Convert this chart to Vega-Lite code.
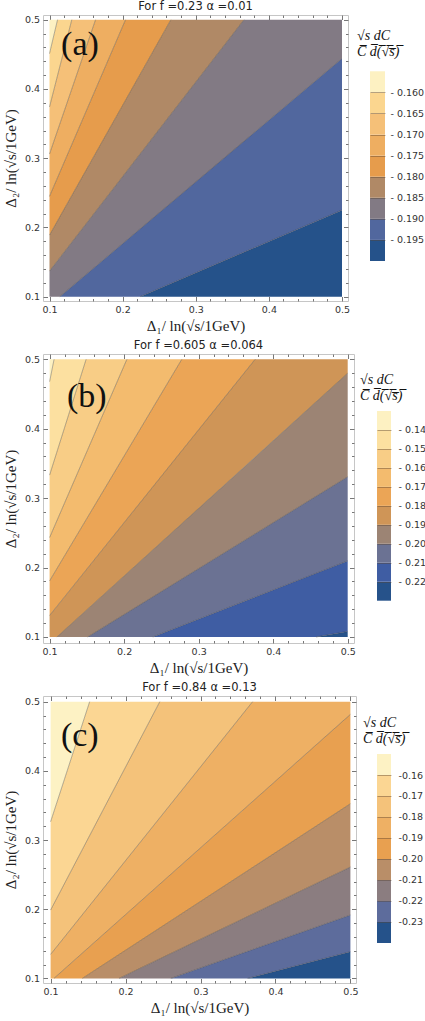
{
"$schema": "https://vega.github.io/schema/vega-lite/v6.json",
"padding": {"left": 2, "top": 0, "right": 0, "bottom": 0},
"background": "white",
"config": {
 "view": {"stroke": "#c6c6c6", "strokeWidth": 1},
 "axis": {"domain": false, "grid": false, "labelOverlap": false, "tickColor": "#777777", "tickSize": -4.5, "labelFont": "DejaVu Sans", "labelFontSize": 9.5, "labelColor": "#333333", "titleFont": "Liberation Serif", "titleFontSize": 15, "titleFontWeight": "normal", "titleColor": "#222222"},
 "title": {"font": "DejaVu Sans", "fontSize": 11.5, "fontWeight": "normal", "color": "#222222", "offset": 2}
},
"datasets": {
 "bandsA": [
  {"band": "a1", "x": 0.224, "lo": 0.1, "hi": 0.1}, {"band": "a1", "x": 0.5, "lo": 0.1, "hi": 0.225},
  {"band": "a2", "x": 0.114, "lo": 0.1, "hi": 0.1}, {"band": "a2", "x": 0.224, "lo": 0.1, "hi": 0.198}, {"band": "a2", "x": 0.5, "lo": 0.225, "hi": 0.444},
  {"band": "a3", "x": 0.1, "lo": 0.1, "hi": 0.137}, {"band": "a3", "x": 0.114, "lo": 0.1, "hi": 0.156}, {"band": "a3", "x": 0.366, "lo": 0.3246, "hi": 0.5}, {"band": "a3", "x": 0.5, "lo": 0.444, "hi": 0.5},
  {"band": "a4", "x": 0.1, "lo": 0.137, "hi": 0.189}, {"band": "a4", "x": 0.266, "lo": 0.3635, "hi": 0.5}, {"band": "a4", "x": 0.366, "lo": 0.5, "hi": 0.5},
  {"band": "a5", "x": 0.1, "lo": 0.189, "hi": 0.245}, {"band": "a5", "x": 0.204, "lo": 0.3838, "hi": 0.5}, {"band": "a5", "x": 0.266, "lo": 0.5, "hi": 0.5},
  {"band": "a6", "x": 0.1, "lo": 0.245, "hi": 0.306}, {"band": "a6", "x": 0.163, "lo": 0.3995, "hi": 0.5}, {"band": "a6", "x": 0.204, "lo": 0.5, "hi": 0.5},
  {"band": "a7", "x": 0.1, "lo": 0.306, "hi": 0.374}, {"band": "a7", "x": 0.1305, "lo": 0.3999, "hi": 0.5}, {"band": "a7", "x": 0.163, "lo": 0.5, "hi": 0.5},
  {"band": "a8", "x": 0.1, "lo": 0.374, "hi": 0.451}, {"band": "a8", "x": 0.111, "lo": 0.4194, "hi": 0.5}, {"band": "a8", "x": 0.1305, "lo": 0.5, "hi": 0.5},
  {"band": "a9", "x": 0.1, "lo": 0.451, "hi": 0.5}, {"band": "a9", "x": 0.111, "lo": 0.5, "hi": 0.5}
 ],
 "linesA": [
  {"line": "L1", "x": 0.224, "y": 0.1}, {"line": "L1", "x": 0.5, "y": 0.225},
  {"line": "L2", "x": 0.114, "y": 0.1}, {"line": "L2", "x": 0.5, "y": 0.444},
  {"line": "L3", "x": 0.1, "y": 0.137}, {"line": "L3", "x": 0.366, "y": 0.5},
  {"line": "L4", "x": 0.1, "y": 0.189}, {"line": "L4", "x": 0.266, "y": 0.5},
  {"line": "L5", "x": 0.1, "y": 0.245}, {"line": "L5", "x": 0.204, "y": 0.5},
  {"line": "L6", "x": 0.1, "y": 0.306}, {"line": "L6", "x": 0.163, "y": 0.5},
  {"line": "L7", "x": 0.1, "y": 0.374}, {"line": "L7", "x": 0.1305, "y": 0.5},
  {"line": "L8", "x": 0.1, "y": 0.451}, {"line": "L8", "x": 0.111, "y": 0.5}
 ],
 "bandsB": [
  {"band": "b1", "x": 0.4575, "lo": 0.1, "hi": 0.1}, {"band": "b1", "x": 0.5, "lo": 0.1, "hi": 0.108},
  {"band": "b2", "x": 0.2385, "lo": 0.1, "hi": 0.1}, {"band": "b2", "x": 0.4575, "lo": 0.1, "hi": 0.1918}, {"band": "b2", "x": 0.5, "lo": 0.108, "hi": 0.2096},
  {"band": "b3", "x": 0.151, "lo": 0.1, "hi": 0.1}, {"band": "b3", "x": 0.2385, "lo": 0.1, "hi": 0.1579}, {"band": "b3", "x": 0.5, "lo": 0.2096, "hi": 0.3308},
  {"band": "b4", "x": 0.1098, "lo": 0.1, "hi": 0.1}, {"band": "b4", "x": 0.151, "lo": 0.1, "hi": 0.1401}, {"band": "b4", "x": 0.5, "lo": 0.3308, "hi": 0.48},
  {"band": "b5", "x": 0.1, "lo": 0.1, "hi": 0.131}, {"band": "b5", "x": 0.1098, "lo": 0.1, "hi": 0.1441}, {"band": "b5", "x": 0.3758, "lo": 0.3591, "hi": 0.5}, {"band": "b5", "x": 0.5, "lo": 0.48, "hi": 0.5},
  {"band": "b6", "x": 0.1, "lo": 0.131, "hi": 0.1808}, {"band": "b6", "x": 0.2774, "lo": 0.3683, "hi": 0.5}, {"band": "b6", "x": 0.3758, "lo": 0.5, "hi": 0.5},
  {"band": "b7", "x": 0.1, "lo": 0.1808, "hi": 0.2433}, {"band": "b7", "x": 0.2037, "lo": 0.3674, "hi": 0.5}, {"band": "b7", "x": 0.2774, "lo": 0.5, "hi": 0.5},
  {"band": "b8", "x": 0.1, "lo": 0.2433, "hi": 0.3332}, {"band": "b8", "x": 0.149, "lo": 0.3646, "hi": 0.5}, {"band": "b8", "x": 0.2037, "lo": 0.5, "hi": 0.5},
  {"band": "b9", "x": 0.1, "lo": 0.3332, "hi": 0.4678}, {"band": "b9", "x": 0.106, "lo": 0.3536, "hi": 0.5}, {"band": "b9", "x": 0.149, "lo": 0.5, "hi": 0.5},
  {"band": "b10", "x": 0.1, "lo": 0.4678, "hi": 0.5}, {"band": "b10", "x": 0.106, "lo": 0.5, "hi": 0.5}
 ],
 "linesB": [
  {"line": "M1", "x": 0.4575, "y": 0.1}, {"line": "M1", "x": 0.5, "y": 0.108},
  {"line": "M2", "x": 0.2385, "y": 0.1}, {"line": "M2", "x": 0.5, "y": 0.2096},
  {"line": "M3", "x": 0.151, "y": 0.1}, {"line": "M3", "x": 0.5, "y": 0.3308},
  {"line": "M4", "x": 0.1098, "y": 0.1}, {"line": "M4", "x": 0.5, "y": 0.48},
  {"line": "M5", "x": 0.1, "y": 0.131}, {"line": "M5", "x": 0.3758, "y": 0.5},
  {"line": "M6", "x": 0.1, "y": 0.1808}, {"line": "M6", "x": 0.2774, "y": 0.5},
  {"line": "M7", "x": 0.1, "y": 0.2433}, {"line": "M7", "x": 0.2037, "y": 0.5},
  {"line": "M8", "x": 0.1, "y": 0.3332}, {"line": "M8", "x": 0.149, "y": 0.5},
  {"line": "M9", "x": 0.1, "y": 0.4678}, {"line": "M9", "x": 0.106, "y": 0.5}
 ],
 "bandsC": [
  {"band": "c1", "x": 0.3628, "lo": 0.1, "hi": 0.1}, {"band": "c1", "x": 0.5, "lo": 0.1, "hi": 0.1386},
  {"band": "c2", "x": 0.2604, "lo": 0.1, "hi": 0.1}, {"band": "c2", "x": 0.3628, "lo": 0.1, "hi": 0.1391}, {"band": "c2", "x": 0.5, "lo": 0.1386, "hi": 0.1916},
  {"band": "c3", "x": 0.1913, "lo": 0.1, "hi": 0.1}, {"band": "c3", "x": 0.2604, "lo": 0.1, "hi": 0.136}, {"band": "c3", "x": 0.5, "lo": 0.1916, "hi": 0.261},
  {"band": "c4", "x": 0.1423, "lo": 0.1, "hi": 0.1}, {"band": "c4", "x": 0.1913, "lo": 0.1, "hi": 0.1346}, {"band": "c4", "x": 0.5, "lo": 0.261, "hi": 0.3525},
  {"band": "c5", "x": 0.1045, "lo": 0.1, "hi": 0.1}, {"band": "c5", "x": 0.1423, "lo": 0.1, "hi": 0.1365}, {"band": "c5", "x": 0.5, "lo": 0.3525, "hi": 0.4817},
  {"band": "c6", "x": 0.1, "lo": 0.1, "hi": 0.1347}, {"band": "c6", "x": 0.1045, "lo": 0.1, "hi": 0.1408}, {"band": "c6", "x": 0.3695, "lo": 0.3558, "hi": 0.5}, {"band": "c6", "x": 0.5, "lo": 0.4817, "hi": 0.5},
  {"band": "c7", "x": 0.1, "lo": 0.1347, "hi": 0.1988}, {"band": "c7", "x": 0.2457, "lo": 0.3322, "hi": 0.5}, {"band": "c7", "x": 0.3695, "lo": 0.5, "hi": 0.5},
  {"band": "c8", "x": 0.1, "lo": 0.1988, "hi": 0.3265}, {"band": "c8", "x": 0.1521, "lo": 0.3065, "hi": 0.5}, {"band": "c8", "x": 0.2457, "lo": 0.5, "hi": 0.5},
  {"band": "c9", "x": 0.1, "lo": 0.3265, "hi": 0.5}, {"band": "c9", "x": 0.1521, "lo": 0.5, "hi": 0.5}
 ],
 "linesC": [
  {"line": "N1", "x": 0.3628, "y": 0.1}, {"line": "N1", "x": 0.5, "y": 0.1386},
  {"line": "N2", "x": 0.2604, "y": 0.1}, {"line": "N2", "x": 0.5, "y": 0.1916},
  {"line": "N3", "x": 0.1913, "y": 0.1}, {"line": "N3", "x": 0.5, "y": 0.261},
  {"line": "N4", "x": 0.1423, "y": 0.1}, {"line": "N4", "x": 0.5, "y": 0.3525},
  {"line": "N5", "x": 0.1045, "y": 0.1}, {"line": "N5", "x": 0.5, "y": 0.4817},
  {"line": "N6", "x": 0.1, "y": 0.1347}, {"line": "N6", "x": 0.3695, "y": 0.5},
  {"line": "N7", "x": 0.1, "y": 0.1988}, {"line": "N7", "x": 0.2457, "y": 0.5},
  {"line": "N8", "x": 0.1, "y": 0.3265}, {"line": "N8", "x": 0.1521, "y": 0.5}
 ],
 "legA": [
  {"band": "a1", "lo": -0.2, "hi": -0.195}, {"band": "a2", "lo": -0.195, "hi": -0.19}, {"band": "a3", "lo": -0.19, "hi": -0.185},
  {"band": "a4", "lo": -0.185, "hi": -0.18}, {"band": "a5", "lo": -0.18, "hi": -0.175}, {"band": "a6", "lo": -0.175, "hi": -0.17},
  {"band": "a7", "lo": -0.17, "hi": -0.165}, {"band": "a8", "lo": -0.165, "hi": -0.16}, {"band": "a9", "lo": -0.16, "hi": -0.155}
 ],
 "legB": [
  {"band": "b1", "lo": -0.23, "hi": -0.22}, {"band": "b2", "lo": -0.22, "hi": -0.21}, {"band": "b3", "lo": -0.21, "hi": -0.2},
  {"band": "b4", "lo": -0.2, "hi": -0.19}, {"band": "b5", "lo": -0.19, "hi": -0.18}, {"band": "b6", "lo": -0.18, "hi": -0.17},
  {"band": "b7", "lo": -0.17, "hi": -0.16}, {"band": "b8", "lo": -0.16, "hi": -0.15}, {"band": "b9", "lo": -0.15, "hi": -0.14}, {"band": "b10", "lo": -0.14, "hi": -0.13}
 ],
 "legC": [
  {"band": "c1", "lo": -0.24, "hi": -0.23}, {"band": "c2", "lo": -0.23, "hi": -0.22}, {"band": "c3", "lo": -0.22, "hi": -0.21},
  {"band": "c4", "lo": -0.21, "hi": -0.2}, {"band": "c5", "lo": -0.2, "hi": -0.19}, {"band": "c6", "lo": -0.19, "hi": -0.18},
  {"band": "c7", "lo": -0.18, "hi": -0.17}, {"band": "c8", "lo": -0.17, "hi": -0.16}, {"band": "c9", "lo": -0.16, "hi": -0.15}
 ]
},
"spacing": 5,
"vconcat": [
 {
  "bounds": "flush", "spacing": 22,
  "hconcat": [
   {
    "width": 305, "height": 286,
    "title": {"text": "For f =0.23 α =0.01"},
    "resolve": {"axis": {"x": "independent", "y": "independent"}},
    "layer": [
     {"data": {"name": "bandsA"}, "mark": {"type": "area", "interpolate": "linear"},
      "encoding": {
       "x": {"field": "x", "type": "quantitative", "scale": {"domain": [0.09111, 0.50821], "nice": false, "zero": false}, "axis": {"orient": "bottom", "values": [0.1, 0.2, 0.3, 0.4, 0.5], "format": ".1f", "labelPadding": 8, "title": "Δ₁/ ln(√s/1GeV)", "titlePadding": 4}},
       "y": {"field": "hi", "type": "quantitative", "scale": {"domain": [0.09379, 0.50679], "nice": false, "zero": false}, "axis": {"orient": "left", "values": [0.1, 0.2, 0.3, 0.4, 0.5], "format": ".1f", "labelPadding": 8, "title": "Δ₂/ ln(√s/1GeV)", "titlePadding": 6}},
       "y2": {"field": "lo"},
       "color": {"field": "band", "type": "nominal", "legend": null, "scale": {"domain": ["a1","a2","a3","a4","a5","a6","a7","a8","a9","b1","b2","b3","b4","b5","b6","b7","b8","b9","b10","c1","c2","c3","c4","c5","c6","c7","c8","c9"], "range": ["#25528a","#51679e","#827a84","#b08966","#e69c4c","#eeae61","#f5c078","#fbd68f","#fdf1c2","#26528a","#3f5da3","#6b7293","#9c8474","#cf9557","#eba556","#f3bb6e","#f8cd86","#fce0a0","#fdf1c2","#25528a","#5d6c9c","#8b7d80","#b98e68","#e8a050","#eeb064","#f4c27a","#fbd693","#fdf2c4"]}}
      }},
     {"data": {"name": "linesA"}, "mark": {"type": "line", "stroke": "#3a3a3a", "strokeWidth": 0.7, "opacity": 0.55},
      "encoding": {
       "x": {"field": "x", "type": "quantitative", "axis": {"orient": "bottom", "values": [0.12,0.14,0.16,0.18,0.22,0.24,0.26,0.28,0.32,0.34,0.36,0.38,0.42,0.44,0.46,0.48], "tickSize": -2.5, "labels": false, "title": null}},
       "y": {"field": "y", "type": "quantitative", "axis": {"orient": "left", "values": [0.12,0.14,0.16,0.18,0.22,0.24,0.26,0.28,0.32,0.34,0.36,0.38,0.42,0.44,0.46,0.48], "tickSize": -2.5, "labels": false, "title": null}},
       "detail": {"field": "line", "type": "nominal"}
      }},
     {"data": {"values": [{}]}, "mark": {"type": "text", "font": "Liberation Serif", "fontSize": 34, "color": "#111111", "align": "center", "baseline": "alphabetic"},
      "encoding": {
       "x": {"datum": 0.1417, "type": "quantitative", "axis": {"orient": "top", "values": [0.1, 0.2, 0.3, 0.4, 0.5], "labels": false, "title": null}},
       "y": {"datum": 0.449, "type": "quantitative", "axis": {"orient": "right", "values": [0.1, 0.2, 0.3, 0.4, 0.5], "labels": false, "title": null}},
       "text": {"value": "(a)"}
      }},
     {"data": {"values": [{}]}, "mark": {"type": "text", "text": ""},
      "encoding": {
       "x": {"datum": 0.3, "type": "quantitative", "axis": {"orient": "top", "values": [0.12,0.14,0.16,0.18,0.22,0.24,0.26,0.28,0.32,0.34,0.36,0.38,0.42,0.44,0.46,0.48], "tickSize": -2.5, "labels": false, "title": null}},
       "y": {"datum": 0.3, "type": "quantitative", "axis": {"orient": "right", "values": [0.12,0.14,0.16,0.18,0.22,0.24,0.26,0.28,0.32,0.34,0.36,0.38,0.42,0.44,0.46,0.48], "tickSize": -2.5, "labels": false, "title": null}}
      }}
    ]
   },
   {
    "width": 15, "height": 286,
    "view": {"stroke": null},
    "title": {"text": ["√s   dC", "C̅   d̅(̅√̅s̅)̅"], "anchor": "start", "offset": -44, "dx": -13, "font": "Liberation Serif", "fontStyle": "italic", "fontSize": 14, "fontWeight": "normal", "color": "#111111", "lineHeight": 16},
    "data": {"name": "legA"},
    "mark": {"type": "rect"},
    "encoding": {
     "y": {"field": "lo", "type": "quantitative", "scale": {"domain": [-0.20949, -0.14165], "nice": false, "zero": false}, "axis": {"orient": "right", "values": [-0.195,-0.19,-0.185,-0.18,-0.175,-0.17,-0.165,-0.16], "labelExpr": "'- ' + format(-datum.value, '.3f')", "labelOverlap": false, "ticks": false, "tickSize": 0, "labelPadding": 5, "title": null, "grid": true, "gridColor": "#5a4632", "gridOpacity": 0.55, "gridWidth": 0.8, "zindex": 1}},
     "y2": {"field": "hi"},
     "color": {"field": "band", "type": "nominal", "legend": null, "scale": {"domain": ["a1","a2","a3","a4","a5","a6","a7","a8","a9","b1","b2","b3","b4","b5","b6","b7","b8","b9","b10","c1","c2","c3","c4","c5","c6","c7","c8","c9"], "range": ["#25528a","#51679e","#827a84","#b08966","#e69c4c","#eeae61","#f5c078","#fbd68f","#fdf1c2","#26528a","#3f5da3","#6b7293","#9c8474","#cf9557","#eba556","#f3bb6e","#f8cd86","#fce0a0","#fdf1c2","#25528a","#5d6c9c","#8b7d80","#b98e68","#e8a050","#eeb064","#f4c27a","#fbd693","#fdf2c4"]}}
    }
   }
  ]
 },
 {
  "bounds": "flush", "spacing": 23,
  "hconcat": [
   {
    "width": 311, "height": 289,
    "title": {"text": "For f =0.605 α =0.064"},
    "resolve": {"axis": {"x": "independent", "y": "independent"}},
    "layer": [
     {"data": {"name": "bandsB"}, "mark": {"type": "area", "interpolate": "linear"},
      "encoding": {
       "x": {"field": "x", "type": "quantitative", "scale": {"domain": [0.09115, 0.50845], "nice": false, "zero": false}, "axis": {"orient": "bottom", "values": [0.1, 0.2, 0.3, 0.4, 0.5], "format": ".1f", "labelPadding": 8, "title": "Δ₁/ ln(√s/1GeV)", "titlePadding": 4}},
       "y": {"field": "hi", "type": "quantitative", "scale": {"domain": [0.09135, 0.50764], "nice": false, "zero": false}, "axis": {"orient": "left", "values": [0.1, 0.2, 0.3, 0.4, 0.5], "format": ".1f", "labelPadding": 8, "title": "Δ₂/ ln(√s/1GeV)", "titlePadding": 6}},
       "y2": {"field": "lo"},
       "color": {"field": "band", "type": "nominal", "legend": null, "scale": {"domain": ["a1","a2","a3","a4","a5","a6","a7","a8","a9","b1","b2","b3","b4","b5","b6","b7","b8","b9","b10","c1","c2","c3","c4","c5","c6","c7","c8","c9"], "range": ["#25528a","#51679e","#827a84","#b08966","#e69c4c","#eeae61","#f5c078","#fbd68f","#fdf1c2","#26528a","#3f5da3","#6b7293","#9c8474","#cf9557","#eba556","#f3bb6e","#f8cd86","#fce0a0","#fdf1c2","#25528a","#5d6c9c","#8b7d80","#b98e68","#e8a050","#eeb064","#f4c27a","#fbd693","#fdf2c4"]}}
      }},
     {"data": {"name": "linesB"}, "mark": {"type": "line", "stroke": "#3a3a3a", "strokeWidth": 0.7, "opacity": 0.55},
      "encoding": {
       "x": {"field": "x", "type": "quantitative", "axis": {"orient": "bottom", "values": [0.12,0.14,0.16,0.18,0.22,0.24,0.26,0.28,0.32,0.34,0.36,0.38,0.42,0.44,0.46,0.48], "tickSize": -2.5, "labels": false, "title": null}},
       "y": {"field": "y", "type": "quantitative", "axis": {"orient": "left", "values": [0.12,0.14,0.16,0.18,0.22,0.24,0.26,0.28,0.32,0.34,0.36,0.38,0.42,0.44,0.46,0.48], "tickSize": -2.5, "labels": false, "title": null}},
       "detail": {"field": "line", "type": "nominal"}
      }},
     {"data": {"values": [{}]}, "mark": {"type": "text", "font": "Liberation Serif", "fontSize": 34, "color": "#111111", "align": "center", "baseline": "alphabetic"},
      "encoding": {
       "x": {"datum": 0.15, "type": "quantitative", "axis": {"orient": "top", "values": [0.1, 0.2, 0.3, 0.4, 0.5], "labels": false, "title": null}},
       "y": {"datum": 0.4316, "type": "quantitative", "axis": {"orient": "right", "values": [0.1, 0.2, 0.3, 0.4, 0.5], "labels": false, "title": null}},
       "text": {"value": "(b)"}
      }},
     {"data": {"values": [{}]}, "mark": {"type": "text", "text": ""},
      "encoding": {
       "x": {"datum": 0.3, "type": "quantitative", "axis": {"orient": "top", "values": [0.12,0.14,0.16,0.18,0.22,0.24,0.26,0.28,0.32,0.34,0.36,0.38,0.42,0.44,0.46,0.48], "tickSize": -2.5, "labels": false, "title": null}},
       "y": {"datum": 0.3, "type": "quantitative", "axis": {"orient": "right", "values": [0.12,0.14,0.16,0.18,0.22,0.24,0.26,0.28,0.32,0.34,0.36,0.38,0.42,0.44,0.46,0.48], "tickSize": -2.5, "labels": false, "title": null}}
      }}
    ]
   },
   {
    "width": 14, "height": 289,
    "view": {"stroke": null},
    "title": {"text": ["√s   dC", "C̅   d̅(̅√̅s̅)̅"], "anchor": "start", "offset": -49, "dx": -17, "font": "Liberation Serif", "fontStyle": "italic", "fontSize": 14, "fontWeight": "normal", "color": "#111111", "lineHeight": 16},
    "data": {"name": "legB"},
    "mark": {"type": "rect"},
    "encoding": {
     "y": {"field": "lo", "type": "quantitative", "scale": {"domain": [-0.2523, -0.09995], "nice": false, "zero": false}, "axis": {"orient": "right", "values": [-0.22,-0.21,-0.2,-0.19,-0.18,-0.17,-0.16,-0.15,-0.14], "labelExpr": "'- ' + format(-datum.value, '.2f')", "labelOverlap": false, "labelSeparation": 0, "ticks": false, "tickSize": 0, "labelPadding": 7, "title": null, "grid": true, "gridColor": "#5a4632", "gridOpacity": 0.55, "gridWidth": 0.8, "zindex": 1}},
     "y2": {"field": "hi"},
     "color": {"field": "band", "type": "nominal", "legend": null, "scale": {"domain": ["a1","a2","a3","a4","a5","a6","a7","a8","a9","b1","b2","b3","b4","b5","b6","b7","b8","b9","b10","c1","c2","c3","c4","c5","c6","c7","c8","c9"], "range": ["#25528a","#51679e","#827a84","#b08966","#e69c4c","#eeae61","#f5c078","#fbd68f","#fdf1c2","#26528a","#3f5da3","#6b7293","#9c8474","#cf9557","#eba556","#f3bb6e","#f8cd86","#fce0a0","#fdf1c2","#25528a","#5d6c9c","#8b7d80","#b98e68","#e8a050","#eeb064","#f4c27a","#fbd693","#fdf2c4"]}}
    }
   }
  ]
 },
 {
  "bounds": "flush", "spacing": 21,
  "hconcat": [
   {
    "width": 313, "height": 287,
    "title": {"text": "For f =0.84 α =0.13"},
    "resolve": {"axis": {"x": "independent", "y": "independent"}},
    "layer": [
     {"data": {"name": "bandsC"}, "mark": {"type": "area", "interpolate": "linear"},
      "encoding": {
       "x": {"field": "x", "type": "quantitative", "scale": {"domain": [0.08985, 0.50748], "nice": false, "zero": false}, "axis": {"orient": "bottom", "values": [0.1, 0.2, 0.3, 0.4, 0.5], "format": ".1f", "labelPadding": 8, "title": "Δ₁/ ln(√s/1GeV)", "titlePadding": 4}},
       "y": {"field": "hi", "type": "quantitative", "scale": {"domain": [0.09335, 0.50824], "nice": false, "zero": false}, "axis": {"orient": "left", "values": [0.1, 0.2, 0.3, 0.4, 0.5], "format": ".1f", "labelPadding": 8, "title": "Δ₂/ ln(√s/1GeV)", "titlePadding": 6}},
       "y2": {"field": "lo"},
       "color": {"field": "band", "type": "nominal", "legend": null, "scale": {"domain": ["a1","a2","a3","a4","a5","a6","a7","a8","a9","b1","b2","b3","b4","b5","b6","b7","b8","b9","b10","c1","c2","c3","c4","c5","c6","c7","c8","c9"], "range": ["#25528a","#51679e","#827a84","#b08966","#e69c4c","#eeae61","#f5c078","#fbd68f","#fdf1c2","#26528a","#3f5da3","#6b7293","#9c8474","#cf9557","#eba556","#f3bb6e","#f8cd86","#fce0a0","#fdf1c2","#25528a","#5d6c9c","#8b7d80","#b98e68","#e8a050","#eeb064","#f4c27a","#fbd693","#fdf2c4"]}}
      }},
     {"data": {"name": "linesC"}, "mark": {"type": "line", "stroke": "#3a3a3a", "strokeWidth": 0.7, "opacity": 0.55},
      "encoding": {
       "x": {"field": "x", "type": "quantitative", "axis": {"orient": "bottom", "values": [0.12,0.14,0.16,0.18,0.22,0.24,0.26,0.28,0.32,0.34,0.36,0.38,0.42,0.44,0.46,0.48], "tickSize": -2.5, "labels": false, "title": null}},
       "y": {"field": "y", "type": "quantitative", "axis": {"orient": "left", "values": [0.12,0.14,0.16,0.18,0.22,0.24,0.26,0.28,0.32,0.34,0.36,0.38,0.42,0.44,0.46,0.48], "tickSize": -2.5, "labels": false, "title": null}},
       "detail": {"field": "line", "type": "nominal"}
      }},
     {"data": {"values": [{}]}, "mark": {"type": "text", "font": "Liberation Serif", "fontSize": 34, "color": "#111111", "align": "center", "baseline": "alphabetic"},
      "encoding": {
       "x": {"datum": 0.139, "type": "quantitative", "axis": {"orient": "top", "values": [0.1, 0.2, 0.3, 0.4, 0.5], "labels": false, "title": null}},
       "y": {"datum": 0.436, "type": "quantitative", "axis": {"orient": "right", "values": [0.1, 0.2, 0.3, 0.4, 0.5], "labels": false, "title": null}},
       "text": {"value": "(c)"}
      }},
     {"data": {"values": [{}]}, "mark": {"type": "text", "text": ""},
      "encoding": {
       "x": {"datum": 0.3, "type": "quantitative", "axis": {"orient": "top", "values": [0.12,0.14,0.16,0.18,0.22,0.24,0.26,0.28,0.32,0.34,0.36,0.38,0.42,0.44,0.46,0.48], "tickSize": -2.5, "labels": false, "title": null}},
       "y": {"datum": 0.3, "type": "quantitative", "axis": {"orient": "right", "values": [0.12,0.14,0.16,0.18,0.22,0.24,0.26,0.28,0.32,0.34,0.36,0.38,0.42,0.44,0.46,0.48], "tickSize": -2.5, "labels": false, "title": null}}
      }}
    ]
   },
   {
    "width": 14, "height": 287,
    "view": {"stroke": null},
    "title": {"text": ["√s   dC", "C̅   d̅(̅√̅s̅)̅"], "anchor": "start", "offset": -50, "dx": -14, "font": "Liberation Serif", "fontStyle": "italic", "fontSize": 14, "fontWeight": "normal", "color": "#111111", "lineHeight": 16},
    "data": {"name": "legC"},
    "mark": {"type": "rect"},
    "encoding": {
     "y": {"field": "lo", "type": "quantitative", "scale": {"domain": [-0.25905, -0.12238], "nice": false, "zero": false}, "axis": {"orient": "right", "values": [-0.23,-0.22,-0.21,-0.2,-0.19,-0.18,-0.17,-0.16], "labelExpr": "'-' + format(-datum.value, '.2f')", "labelOverlap": false, "ticks": false, "tickSize": 0, "labelPadding": 7, "title": null, "grid": true, "gridColor": "#5a4632", "gridOpacity": 0.55, "gridWidth": 0.8, "zindex": 1}},
     "y2": {"field": "hi"},
     "color": {"field": "band", "type": "nominal", "legend": null, "scale": {"domain": ["a1","a2","a3","a4","a5","a6","a7","a8","a9","b1","b2","b3","b4","b5","b6","b7","b8","b9","b10","c1","c2","c3","c4","c5","c6","c7","c8","c9"], "range": ["#25528a","#51679e","#827a84","#b08966","#e69c4c","#eeae61","#f5c078","#fbd68f","#fdf1c2","#26528a","#3f5da3","#6b7293","#9c8474","#cf9557","#eba556","#f3bb6e","#f8cd86","#fce0a0","#fdf1c2","#25528a","#5d6c9c","#8b7d80","#b98e68","#e8a050","#eeb064","#f4c27a","#fbd693","#fdf2c4"]}}
    }
   }
  ]
 }
]
}
